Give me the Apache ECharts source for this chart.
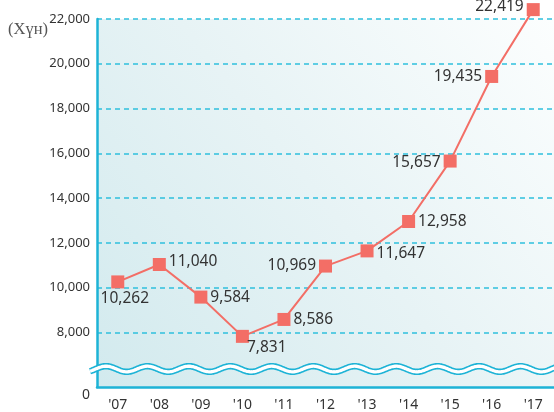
<!DOCTYPE html>
<html>
<head>
<meta charset="utf-8">
<script src="https://cdn.jsdelivr.net/npm/echarts@6/dist/echarts.min.js"></script>
<style>html,body{margin:0;padding:0;background:#fff}#c{width:554px;height:412px}</style>
</head>
<body>
<div id="c"></div>
<script>
const categories = ["'07","'08","'09","'10","'11","'12","'13","'14","'15","'16","'17"];
const values = [10262, 11040, 9584, 7831, 8586, 10969, 11647, 12958, 15657, 19435, 22419];
const yTicks = [8000, 10000, 12000, 14000, 16000, 18000, 20000, 22000];
const unitLabel = '(Хүн)';

const Y_MIN = 5570, Y_MAX = 22000;
const labelSides = ['bottom','right','right','right','right','left','right','right','left','left','left'];
const labelOffsets = [[7,0],[0,-3],[0,0],[-5,11],[0,0],[0,0],[0,3],[0,0],[0,2],[0,0],[0,-3]];
const FONT = '"Noto Sans", sans-serif';

const chart = echarts.init(document.getElementById('c'));
const fmt = v => v.toLocaleString('en-US');

const seriesData = values.map((v, i) => ({
  value: v,
  label: { position: labelSides[i], offset: labelOffsets[i], distance: labelSides[i] === 'bottom' ? 2 : 3 }
}));

const GRID = { left: 97, right: 0, top: 19, bottom: 21 };

function wavePoints() {
  const pts = [];
  const y0 = 369, amp = 2.8, period = 456 / 11, crest = 106;
  for (let x = 90; x <= 556; x += 1) {
    pts.push([x, y0 - amp * Math.cos(2 * Math.PI * (x - crest) / period)]);
  }
  return pts;
}
const wave = wavePoints();

chart.setOption({
  animation: false,
  title: {
    text: unitLabel, left: 8, top: 21, padding: 0,
    textStyle: { fontFamily: '"Liberation Serif", "DejaVu Serif", serif', fontSize: 16.5, fontWeight: 'normal', color: '#555' }
  },
  grid: {
    ...GRID, show: true, borderWidth: 0,
    backgroundColor: new echarts.graphic.LinearGradient(0, 1, 1, 0, [
      { offset: 0, color: '#d2eaee' },
      { offset: 0.5, color: '#e7f3f5' },
      { offset: 1, color: '#fcfefe' }
    ])
  },
  xAxis: {
    type: 'category', data: categories, boundaryGap: true,
    axisLine: { lineStyle: { color: '#1db3d6', width: 2.5 } },
    axisTick: { inside: true, length: 8, lineStyle: { color: '#1db3d6', width: 2 } },
    axisLabel: { color: '#333', fontSize: 14, fontFamily: FONT, margin: 11 },
    splitLine: { show: false }
  },
  yAxis: {
    type: 'value', min: Y_MIN, max: Y_MAX,
    axisLine: { show: true, lineStyle: { color: '#1db3d6', width: 2.5 } },
    axisTick: { show: false, customValues: yTicks },
    axisLabel: {
      customValues: [Y_MIN].concat(yTicks),
      formatter: v => (v === Y_MIN ? '{z|0}' : fmt(v)),
      rich: { z: { padding: [16, 0, 0, 0], fontSize: 14, fontFamily: FONT, color: '#333' } },
      color: '#333', fontSize: 13, fontFamily: FONT, margin: 7
    },
    splitLine: { show: true, lineStyle: { color: '#2fc0dd', width: 1.5, type: [5, 4] } }
  },
  series: [{
    type: 'line', data: seriesData, clip: false,
    symbol: 'rect', symbolSize: 13,
    itemStyle: { color: '#f36e66' },
    lineStyle: { color: '#f36e66', width: 2 },
    label: { show: true, formatter: p => fmt(p.value), color: '#333', fontSize: 15.5, fontFamily: FONT },
    z: 5
  }],
  graphic: [
    { type: 'polyline', z: 100, silent: true, shape: { points: wave }, style: { stroke: '#1db3d6', lineWidth: 6.5, fill: null } },
    { type: 'polyline', z: 101, silent: true, shape: { points: wave }, style: { stroke: '#ffffff', lineWidth: 3.3, fill: null } }
  ]
});
</script>
</body>
</html>
